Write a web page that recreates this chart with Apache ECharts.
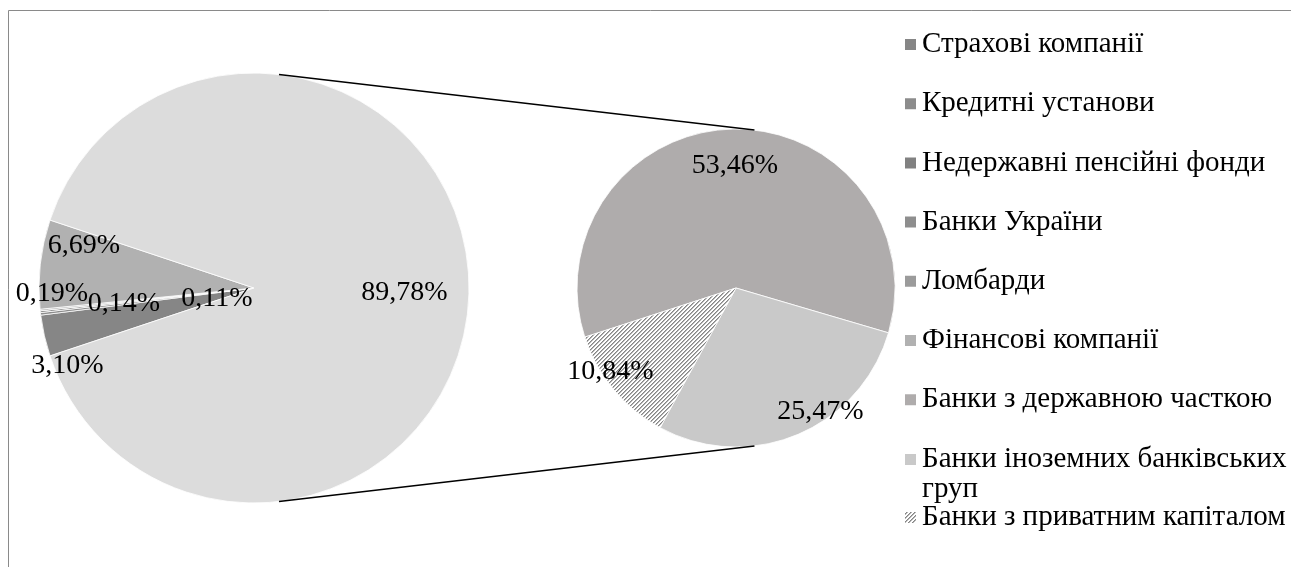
<!DOCTYPE html>
<html><head><meta charset="utf-8">
<script src="https://cdn.jsdelivr.net/npm/echarts@6/dist/echarts.min.js"></script>
<style>html,body{margin:0;padding:0;background:#fff}#c{width:1291px;height:567px}</style>
</head><body><div id="c"></div>
<script>
// ---- data ----
const categories = ['Страхові компанії','Кредитні установи','Недержавні пенсійні фонди','Банки України','Ломбарди','Фінансові компанії','Банки з державною часткою','Банки іноземних банківських груп','Банки з приватним капіталом'];
const mainNames = categories.slice(0, 6);
const mainValues = [3.10, 0.19, 0.14, 0, 0.11, 6.69];
const otherName = 'Банки';
const otherValue = 89.78;
const secNames = categories.slice(6);
const secValues = [53.46, 25.47, 10.84];

// ---- style ----
const FONT = 'Liberation Serif';
const mainColors = ['#868686', '#8c8c8c', '#818181', '#8e8e8e', '#9b9b9b', '#b1b1b1'];
const otherColor = '#dcdcdc';
const secColors = ['#afacac', '#c9c9c9', null];
const C1 = [254, 288], R1 = 215;
const C2 = [736, 288], R2 = 159;
// label placement: [fraction of radius, angle shift in degrees from slice middle]
const mainPlace = [[0.94, 9.8], [0.94, -5.3], [0.61, 0.7], [0, 0], [0.18, 10.7], [0.815, -7.5], [0.70, -1.9]];
const secPlace = [[0.77, -0.3], [0.94, 11.8], [0.95, -6.0]];

// hatch pattern
const pc = document.createElement('canvas');
pc.width = 4; pc.height = 4;
const px = pc.getContext('2d');
px.fillStyle = '#ffffff'; px.fillRect(0, 0, 4, 4);
for (let i = 0; i < 4; i++) {
  px.fillStyle = '#858585'; px.fillRect(i, 3 - i, 1, 1);
  px.fillStyle = '#b5b5b5'; px.fillRect((i + 1) % 4, 3 - i, 1, 1);
}
const hatch = { image: pc, repeat: 'repeat' };

const fmt = v => v.toFixed(2).replace('.', ',') + '%';

const mainAll = mainValues.concat([otherValue]);
const mainTotal = mainAll.reduce((a, b) => a + b, 0);
const smallTotal = mainValues.reduce((a, b) => a + b, 0);
const mainStart = 180 + smallTotal / mainTotal * 180;
const secTotal = secValues.reduce((a, b) => a + b, 0);
const secStart = 198;

function midAngles(vals, total, start) {
  const out = []; let a = start;
  vals.forEach(v => { const s = v / total * 360; out.push(a - s / 2); a -= s; });
  return out;
}
const mainMids = midAngles(mainAll, mainTotal, mainStart);
const secMids = midAngles(secValues, secTotal, secStart);

const mainData = mainNames.map((n, i) => ({
  name: n, value: mainValues[i],
  itemStyle: { color: mainColors[i] },
  label: { show: mainValues[i] > 0 }
})).concat([{ name: otherName, value: otherValue, itemStyle: { color: otherColor } }]);

const secData = secNames.map((n, i) => ({
  name: n, value: secValues[i],
  itemStyle: { color: secColors[i] || hatch }
}));

function placer(center, r, mids, place) {
  return function (p) {
    const pl = place[p.dataIndex];
    const ang = (mids[p.dataIndex] + pl[1]) * Math.PI / 180;
    return { x: center[0] + pl[0] * r * Math.cos(ang), y: center[1] - pl[0] * r * Math.sin(ang), align: 'center', verticalAlign: 'middle' };
  };
}

// tangent connector lines
function tangents() {
  const dx = C2[0] - C1[0], dy = C2[1] - C1[1];
  const d = Math.hypot(dx, dy), base = Math.atan2(dy, dx), a = Math.acos((R1 - R2) / d);
  return [1, -1].map(s => {
    const ang = base + s * a;
    return { type: 'line', silent: true, z: 10,
      shape: { x1: C1[0] + R1 * Math.cos(ang), y1: C1[1] + R1 * Math.sin(ang), x2: C2[0] + R2 * Math.cos(ang), y2: C2[1] + R2 * Math.sin(ang) },
      style: { stroke: '#000', lineWidth: 1.5 } };
  });
}

const labelCommon = { position: 'inside', fontFamily: FONT, fontSize: 28, color: '#000', formatter: p => fmt(p.value) };
const legendCommon = { orient: 'vertical', left: 903, padding: 0, icon: 'rect', itemWidth: 13, itemHeight: 13, selectedMode: false,
  textStyle: { fontFamily: FONT, fontSize: 29, lineHeight: 30, color: '#000' } };

const chart = echarts.init(document.getElementById('c'), null, { renderer: 'canvas' });
chart.setOption({
  animation: false,
  backgroundColor: '#fff',
  legend: [
    Object.assign({}, legendCommon, { data: categories.slice(0, 7), top: 29.5, itemGap: 29.2 }),
    Object.assign({}, legendCommon, { data: [categories[7]], top: 414.5, formatter: n => '\n' + n.replace(/ (\S+)$/, '\n$1') }),
    Object.assign({}, legendCommon, { data: [categories[8]], top: 502.5 })
  ],
  graphic: [
    { type: 'rect', silent: true, shape: { x: 8.5, y: 10.5, width: 1400, height: 700 }, style: { fill: 'none', stroke: '#8a8a8a', lineWidth: 1 } }
  ].concat(tangents()),
  series: [
    { type: 'pie', name: 'main', center: C1, radius: R1, startAngle: mainStart, clockwise: true, silent: true,
      itemStyle: { borderColor: '#fff', borderWidth: 0.8 },
      label: labelCommon, labelLine: { show: false },
      labelLayout: placer(C1, R1, mainMids, mainPlace),
      data: mainData },
    { type: 'pie', name: 'sec', center: C2, radius: R2, startAngle: secStart, clockwise: true, silent: true,
      itemStyle: { borderColor: '#fff', borderWidth: 0.8 },
      label: labelCommon, labelLine: { show: false },
      labelLayout: placer(C2, R2, secMids, secPlace),
      data: secData }
  ]
});
</script></body></html>
